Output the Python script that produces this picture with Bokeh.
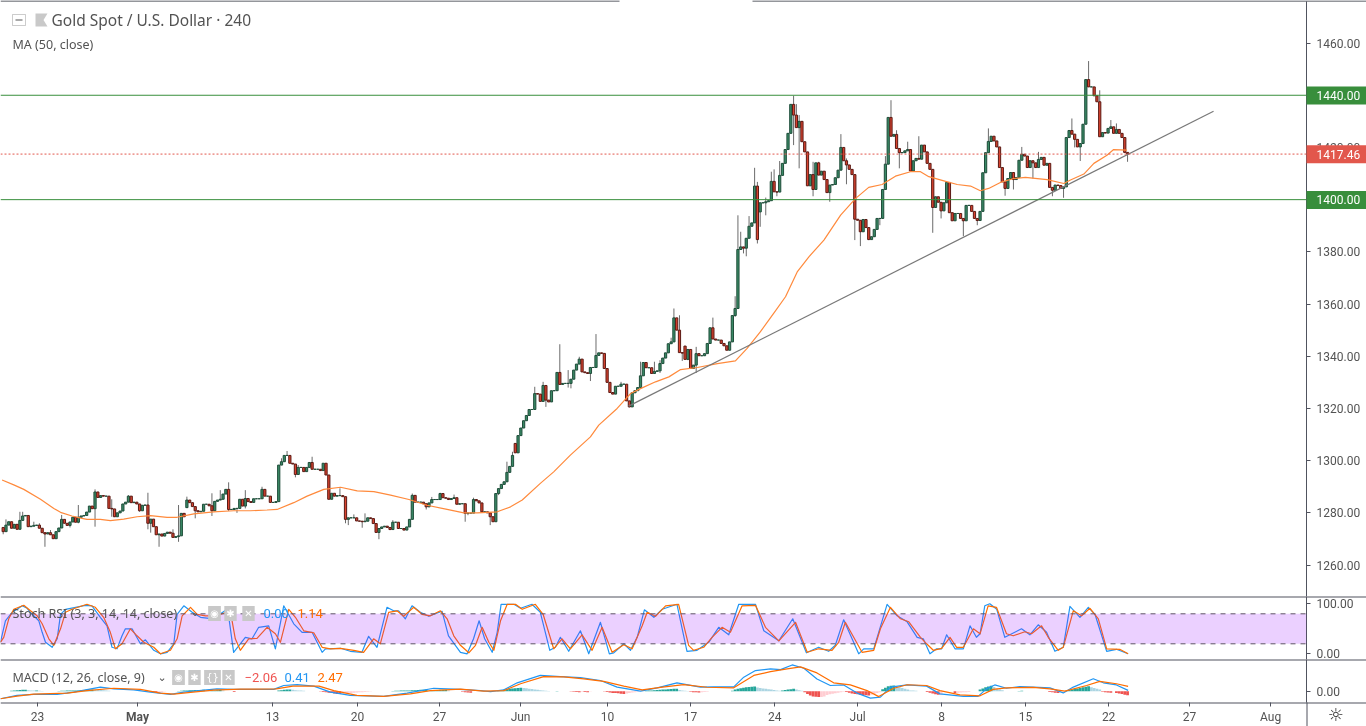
from bokeh.embed import file_html
from bokeh.layouts import column
from bokeh.models import BoxAnnotation, ColumnDataSource, FixedTicker, Label, NumeralTickFormatter, PolyAnnotation, Range1d, Span
from bokeh.plotting import figure
from bokeh.resources import INLINE

# 4h closes
closes = [
    1272.8, 1275.3, 1276.6, 1274.1, 1275.6, 1273.7, 1277.1, 1278.8, 1279.0, 1274.7,
    1274.9, 1275.2, 1275.3, 1274.1, 1272.4, 1271.9, 1272.4, 1271.6, 1270.1, 1272.8,
    1274.2, 1277.5, 1276.0, 1275.2, 1276.5, 1278.3, 1276.4, 1278.3, 1278.8, 1279.0,
    1280.3, 1282.6, 1281.6, 1288.0, 1285.9, 1286.6, 1286.4, 1286.4, 1281.7, 1281.5,
    1278.5, 1280.0, 1280.7, 1283.4, 1284.1, 1286.4, 1283.9, 1284.1, 1283.4, 1280.8,
    1282.9, 1283.0, 1276.0, 1277.6, 1274.7, 1271.6, 1271.9, 1271.1, 1272.1, 1272.6,
    1272.2, 1270.6, 1270.9, 1271.2, 1279.8, 1278.5,
    1284.9, 1283.9, 1282.4, 1280.8, 1280.4, 1280.6, 1283.3, 1283.3, 1282.7, 1280.8,
    1284.4, 1284.9, 1285.2, 1287.2, 1289.0, 1281.3, 1281.3, 1281.7, 1281.7, 1285.2,
    1282.6, 1285.5, 1284.3, 1284.0, 1285.4, 1285.4, 1285.4, 1289.0, 1286.4, 1286.4,
    1284.0, 1284.0, 1284.3, 1298.3, 1299.6, 1302.0, 1302.0, 1299.0, 1298.7, 1294.7,
    1297.4, 1297.4, 1295.8, 1297.4, 1299.3, 1296.7, 1296.7, 1296.7, 1296.2, 1299.0,
    1294.5, 1285.2, 1287.5, 1286.4, 1286.6, 1286.6, 1286.2, 1277.5,
    1278.1, 1278.1, 1278.1, 1276.9, 1276.8, 1276.6, 1276.8, 1278.1, 1277.8, 1275.9,
    1272.5, 1274.0, 1274.6, 1274.9, 1274.4, 1273.6, 1276.4, 1276.4, 1274.0, 1274.0,
    1273.4, 1274.6, 1277.5, 1286.7,
    1284.1, 1284.1, 1284.1, 1283.5, 1282.3, 1283.8, 1285.1, 1285.1, 1285.1, 1287.4,
    1285.8, 1285.6, 1285.1, 1285.5, 1285.8, 1283.3, 1283.5, 1283.5, 1279.8, 1279.9,
    1279.9, 1285.1, 1284.6, 1283.8, 1280.4, 1280.4, 1280.0, 1278.5, 1276.6, 1287.4,
    1289.3, 1290.9, 1291.9, 1295.5, 1297.8, 1302.0, 1303.0, 1309.6, 1312.5, 1315.3,
    1317.3, 1319.6, 1319.6, 1325.7, 1325.5, 1322.7, 1328.8, 1323.2, 1322.5, 1326.8,
    1326.8, 1333.8, 1329.2, 1329.6, 1329.6, 1329.6, 1331.2, 1334.7, 1337.0, 1338.9,
    1334.0, 1333.7, 1333.4, 1335.7, 1335.7, 1340.3, 1341.3, 1341.1, 1335.3, 1330.0,
    1326.1, 1325.5, 1328.5, 1328.5, 1329.3, 1329.3, 1322.9, 1320.6, 1326.0, 1326.8,
    1328.0, 1332.5, 1337.6, 1335.6, 1335.6, 1333.4, 1334.2, 1334.4, 1337.2, 1339.3,
    1341.3, 1344.8, 1345.5, 1354.7,
    1350.0, 1341.4, 1341.2, 1338.8, 1342.6, 1335.3, 1336.6, 1341.0, 1340.2, 1340.2,
    1341.0, 1344.9, 1350.9, 1346.6, 1346.2, 1346.2, 1344.9, 1344.0, 1342.3, 1345.5,
    1355.6, 1358.3, 1380.9, 1381.9, 1381.4, 1385.2, 1389.8, 1391.1, 1405.2, 1384.7,
    1398.8, 1398.8, 1399.2, 1399.6, 1407.0, 1403.0, 1402.9, 1409.3, 1413.9, 1419.2,
    1425.4, 1436.5, 1432.4, 1427.6, 1430.0, 1422.2, 1418.3, 1405.3, 1409.6, 1403.9,
    1414.1, 1409.4, 1410.9, 1407.7, 1402.7, 1405.6, 1405.8, 1408.4, 1411.3, 1420.0,
    1414.9, 1413.3, 1411.6, 1409.6, 1392.5, 1392.1, 1387.7, 1392.4, 1389.3, 1384.7,
    1385.8, 1388.6, 1392.8, 1392.8, 1403.9, 1413.6, 1431.5, 1424.3, 1425.0, 1419.6,
    1418.0, 1418.0, 1418.7, 1419.2, 1411.0, 1414.9, 1415.8, 1415.5, 1420.9,
    1418.3, 1413.9, 1411.6, 1397.0, 1401.1, 1399.0, 1395.7, 1398.8, 1406.6, 1395.0,
    1391.9, 1394.7, 1394.7, 1392.8, 1391.9, 1397.8, 1397.8, 1395.5, 1392.8, 1392.0,
    1395.5, 1410.3, 1418.0, 1422.3, 1424.3, 1422.5, 1420.2, 1412.3, 1406.8, 1404.3,
    1408.1, 1410.4, 1407.7, 1408.5, 1415.1, 1417.4, 1416.7, 1412.3, 1414.9, 1414.1,
    1412.3, 1415.4, 1416.2, 1413.2, 1413.9, 1404.7, 1403.6, 1405.6, 1405.4, 1404.3,
    1404.9, 1423.8, 1426.5, 1425.1, 1423.1, 1420.2, 1421.5, 1428.9, 1446.0, 1443.2,
    1443.2, 1439.8, 1437.5, 1424.1, 1425.7, 1425.5, 1427.3, 1427.9, 1425.4, 1426.9,
    1425.4, 1423.8, 1418.1, 1417.46,
]
# bars that do not open at the previous close
gap_opens = {0: 1274.4, 66: 1282.0, 184: 1306.6, 245: 1343.9, 272: 1395.3}

# only the wicks that can be seen, (bar, price)
wick_highs = [
    (1, 1277.5), (6, 1280.4), (7, 1280.4), (11, 1276.6), (13, 1276.0), (17, 1273.4), (21, 1279.2),
    (27, 1283.0), (33, 1289.0), (34, 1287.9), (39, 1285.2), (45, 1286.8), (52, 1287.7), (61, 1273.7),
    (63, 1283.0), (66, 1286.2), (75, 1287.5), (78, 1288.7), (81, 1291.7), (87, 1288.7), (93, 1290.0),
    (100, 1300.9), (102, 1303.7), (106, 1298.3), (111, 1301.5), (121, 1289.4),
    (126, 1279.4), (130, 1279.8), (140, 1277.2), (147, 1287.4), (154, 1286.1), (157, 1287.7),
    (158, 1287.4), (162, 1287.0), (169, 1285.8), (181, 1299.6), (183, 1303.4), (191, 1328.3),
    (194, 1330.2), (200, 1344.6), (203, 1334.7), (205, 1334.4), (207, 1339.8), (213, 1348.5),
    (222, 1330.2), (229, 1337.9), (234, 1337.9), (236, 1338.5), (237, 1339.1),
    (239, 1344.3), (240, 1347.1), (241, 1358.3), (243, 1355.7), (249, 1343.6), (255, 1354.8),
    (263, 1363.0), (264, 1394.0), (265, 1387.7), (268, 1393.7), (270, 1412.2), (271, 1406.8),
    (274, 1400.8), (276, 1410.7), (277, 1411.6), (279, 1414.8), (284, 1439.8), (285, 1436.6),
    (286, 1432.4), (291, 1414.5), (293, 1414.5), (301, 1425.1), (303, 1415.8), (317, 1416.7),
    (319, 1438.1), (321, 1426.6), (325, 1422.2), (329, 1424.3),
    (354, 1427.3), (366, 1420.2), (372, 1418.3), (384, 1431.1), (390, 1453.1), (394, 1441.9),
    (398, 1430.5), (400, 1429.2),
]
wick_lows = [
    (0, 1271.8), (1, 1273.2), (15, 1267.0), (24, 1274.4), (27, 1276.0), (33, 1274.7), (39, 1278.5),
    (49, 1280.4), (52, 1273.7), (53, 1272.4), (56, 1267.0), (63, 1268.9), (69, 1277.9), (75, 1278.8),
    (81, 1280.7), (84, 1280.0), (87, 1281.7), (105, 1293.6), (123, 1276.0), (124, 1275.3),
    (129, 1274.3), (130, 1276.6), (135, 1269.9), (139, 1273.4), (152, 1281.3), (166, 1276.6),
    (167, 1279.1), (175, 1275.3), (178, 1286.8), (195, 1320.6), (203, 1328.0), (204, 1327.7),
    (211, 1330.5), (225, 1320.4), (228, 1328.0),
    (236, 1333.6), (244, 1338.2), (246, 1338.5), (249, 1333.6), (263, 1355.1), (266, 1379.4),
    (267, 1378.3), (271, 1383.2), (272, 1389.6), (274, 1394.0), (278, 1401.3), (284, 1420.9),
    (286, 1412.0), (291, 1401.3), (297, 1399.2), (303, 1405.9), (306, 1384.5), (308, 1382.2),
    (311, 1384.5), (315, 1390.2), (322, 1412.0),
    (334, 1387.3), (337, 1392.8), (345, 1386.0), (350, 1390.2), (360, 1401.5), (363, 1403.9),
    (370, 1408.1), (377, 1401.3), (381, 1400.7), (385, 1420.0), (387, 1414.8), (404, 1414.5),
]

ma_50 = [
    (-0.4, 1292.6), (3.8, 1290.7), (7.4, 1289.0), (13.4, 1285.2), (18.2, 1281.7), (20.6, 1280.2),
    (24.7, 1278.8), (28.3, 1277.9), (30.1, 1277.5), (34.9, 1277.5), (38.5, 1277.0), (43.3, 1277.6),
    (48.1, 1278.5), (52.9, 1278.9), (58.9, 1278.3), (62.5, 1278.3), (68.5, 1279.6), (75.6, 1280.4),
    (82.8, 1280.8), (88.8, 1280.8), (94.8, 1281.1), (98.4, 1281.3), (104.4, 1283.9), (109.2, 1286.4),
    (115.2, 1289.0), (121.2, 1289.8), (127.2, 1288.4), (133.2, 1288.1), (139.2, 1286.8), (145.8, 1285.1),
    (152.3, 1282.9), (159.5, 1281.3), (165.5, 1280.0), (170.3, 1280.0), (177.5, 1280.4), (182.3, 1282.3),
    (186.5, 1284.9), (193.0, 1291.3), (197.8, 1295.7), (203.8, 1302.1), (211.0, 1309.1), (214.0, 1313.6),
    (220.6, 1320.0), (225.4, 1325.7), (229.0, 1327.6), (234.4, 1330.2), (239.2, 1332.1), (243.4, 1334.9),
    (249.4, 1335.7), (256.6, 1337.2), (263.1, 1338.2), (267.3, 1343.0), (272.1, 1349.4), (276.9, 1356.5),
    (281.1, 1362.8), (285.3, 1372.3), (289.5, 1378.1), (294.9, 1384.5), (300.9, 1394.1), (306.3, 1400.5),
    (311.0, 1404.7), (315.8, 1405.8), (320.6, 1409.0), (326.0, 1410.7), (329.6, 1410.7), (332.6, 1408.8),
    (338.0, 1407.2), (342.8, 1405.8), (347.6, 1405.2), (351.1, 1403.4), (354.1, 1404.3), (358.3, 1406.6),
    (363.1, 1408.1), (367.3, 1408.5), (375.1, 1407.7), (381.1, 1406.2), (383.5, 1407.5), (388.3, 1409.8),
    (391.9, 1413.9), (396.6, 1417.0), (399.0, 1419.2), (403.8, 1419.0),
]
trend_bars = [224.7, 434.9]
trend_prices = [1320.9, 1433.9]
level_prices = [1440.0, 1400.0]
last_price = 1417.46

stoch_k = [
    (-1, 23), (0.8, 66), (3.2, 83), (5, 89), (6.8, 96), (8.6, 91), (10.4, 79), (12.8, 66), (14, 43), (15.2, 23),
    (17.6, 13), (19.4, 30), (20.6, 79), (22.4, 89), (26, 93), (29.5, 97), (31.9, 96), (34.9, 73), (37.3, 56),
    (39.1, 13), (40.9, 10), (42.7, 36), (43.9, 50), (46.3, 50), (49.3, 20), (51.1, 28), (54.1, 7), (56.5, 0),
    (58.9, 3), (61.3, 20), (62.5, 79), (64.9, 96), (67.9, 83), (70.9, 73), (75.6, 70), (80.4, 89), (81, 76),
    (82.8, 3), (87, 33), (89.4, 30), (91.8, 53), (95.4, 56), (97.8, 10), (100.8, 96), (104.4, 60), (107.4, 43),
    (111, 43), (114.6, 3), (115.8, 10), (121.2, 11), (124.7, 5), (128.9, 3), (131.3, 35), (134.3, 13), (137.9, 93),
    (140.3, 86), (142.1, 86), (144.5, 70), (146.9, 96), (149.9, 83), (152.9, 75), (157.7, 85), (160, 36), (164.3, 3),
    (166.7, 0), (169, 30), (171, 66), (173, 30), (175.7, 3), (177.5, 43), (178.9, 99), (183.5, 99), (185.9, 91),
    (190, 99), (193, 83), (196.4, 7), (198.4, 13), (200.2, 33), (203.2, 5), (207.4, 46), (210.4, 0), (214.6, 63),
    (217.8, 0), (219.4, 2), (223, 20), (225.4, 7), (227.8, 33), (230.4, 88), (233.8, 73), (236.8, 89), (242.1, 99),
    (245.7, 5), (249.3, 7), (253.5, 23), (257.1, 53), (260.7, 38), (264.3, 99), (270.3, 99), (273.3, 46), (278.7, 26),
    (283.7, 70), (288.6, 2), (293, 13), (296.6, 5), (299, 17), (302, 68), (307.4, 0), (309.2, 10), (312.8, 10),
    (317.6, 99), (321.2, 76), (324.8, 64), (328.4, 33), (330.6, 30), (333, 0), (335.4, 10), (337.2, 10), (339, 38),
    (342, 10), (345, 10), (347.4, 56), (349.7, 33), (351, 40), (352.7, 96), (354.5, 100), (357, 89), (359.9, 33),
    (361.7, 38), (365.9, 50), (368.9, 38), (371.9, 58), (374.9, 43), (377.9, 5), (380.9, 13), (383.3, 95), (386.9, 73),
    (389.9, 93), (392.3, 79), (396.5, 5), (400, 9), (404.2, 0),
]
stoch_d = [
    (-1, 23), (0.2, 33), (2, 70), (3.8, 89), (7.4, 97), (9.8, 86), (12.2, 76), (14, 60), (16.4, 30), (18.2, 17),
    (20.6, 50), (22.4, 83), (24.7, 89), (30.1, 99), (33.1, 93), (36.1, 73), (38.5, 43), (40.3, 10), (42.7, 20),
    (45.7, 50), (48.1, 36), (50.5, 23), (54.1, 13), (56.5, 0), (60.1, 7), (62.5, 30), (64.3, 76), (67.3, 93),
    (69.7, 79), (72.7, 76), (76.8, 76), (81.6, 86), (83.4, 30), (85.2, 7), (88.2, 30), (91.2, 31), (94.8, 53),
    (97.8, 40), (99.6, 23), (102.6, 89), (105, 73), (108, 46), (111.6, 42), (114.6, 13), (117.6, 10), (121.2, 11),
    (126, 7), (129.5, 3), (133.1, 30), (135.5, 20), (138.5, 83), (141.5, 86), (143.9, 75), (147.5, 93), (150.5, 79),
    (153.5, 76), (157.1, 86), (159.5, 70), (161.9, 36), (164.3, 17), (167.3, 2), (169.7, 17), (172.1, 53), (174.5, 23),
    (176.3, 7), (178.7, 66), (181.1, 99), (184.1, 99), (186.5, 89), (191.2, 99), (194, 79), (197.8, 10), (200.8, 30),
    (203.8, 10), (208, 38), (211.6, 7), (215.2, 53), (218.8, 3), (223, 18), (226, 10), (229.6, 56), (231.4, 83),
    (234.4, 75), (238, 96), (242.7, 99), (246.3, 17), (248.1, 7), (251.7, 13), (254.7, 33), (258.3, 53), (261.3, 43),
    (265.5, 96), (270.3, 97), (273.9, 53), (278.7, 26), (284.7, 63), (288.9, 3), (293, 10), (297.8, 7), (300.2, 23),
    (302.6, 63), (308.6, 3), (312.8, 7), (315.2, 50), (318.8, 93), (322.4, 70), (325.4, 64), (329.6, 33), (331.8, 20),
    (334.2, 7), (337.2, 11), (340.2, 33), (342.6, 13), (345, 13), (348.6, 50), (351, 40), (353.9, 96), (356.9, 93),
    (360.5, 40), (362.9, 36), (367.1, 44), (369.5, 40), (373.1, 56), (375.5, 33), (379.1, 7), (380.9, 13), (384.5, 86),
    (387.5, 76), (390.5, 91), (393.5, 70), (396.5, 10), (401.2, 9), (404.2, 0),
]

macd_line = [
    (-1, -3.9), (5, -2.2), (11, -1.7), (19.4, -1.7), (25.3, -0.5), (34.9, 2.1), (39.7, 1.2), (46.9, 0.7), (52.9, -0.5),
    (60.1, -1.7), (64.9, -0.5), (76.8, 1.2), (82.8, 0.9), (97.2, 0.9), (100.8, 2.9), (105.6, 3.4), (111.6, 2.6),
    (117.6, -0.5), (124.7, -2.2), (136.7, -2.7), (145.1, -1.0), (154.7, 1.5), (164.3, 0.9), (171.5, 0.3), (175.1, -0.2),
    (179.9, 0.7), (184.7, 4.3), (193, 8.1), (200.2, 7.5), (207.4, 7.0), (214.6, 5.5), (220.6, 2.1), (229, 0.0),
    (235, 1.7), (242.1, 4.3), (250.5, 2.1), (255.3, 2.2), (262.5, 2.2), (266.1, 7.2), (270.3, 10.6), (275.7, 11.5),
    (279.3, 11.1), (283.5, 13.5), (287.7, 11.8), (292.4, 6.3), (297.2, 2.9), (302, 3.2), (306.8, -1.0), (311.6, -3.6),
    (315.2, -3.1), (318.8, 2.1), (324.8, 3.2), (331.8, 2.6), (336.6, -1.4), (345, -2.7), (350.3, -2.7), (353.3, 1.2),
    (356.3, 3.2), (360.5, 1.5), (365.3, 2.4), (370.1, 2.1), (376.1, 1.7), (380.9, -0.9), (384.5, 2.1), (391.7, 6.4),
    (395.3, 4.3), (400, 3.2), (404.2, 0.41),
]
macd_signal = [
    (-1, -3.9), (5, -2.6), (11, -1.5), (23, -1.0), (30.1, 0.3), (39.7, 1.5), (49.3, 0.9), (56.5, -1.0), (61.3, -1.5),
    (68.2, -0.5), (75.6, 0.5), (85.2, 1.0), (98.1, 1.2), (104.1, 2.6), (113.5, 2.6), (118.8, 0.3), (127.1, -2.2),
    (136.7, -2.7), (146.3, -1.4), (153.5, 0.3), (164.3, 1.0), (172.7, 0.0), (179.9, 0.3), (185.9, 3.8), (194.2, 7.5),
    (201.4, 7.4), (208.6, 6.3), (215.8, 5.0), (223, 2.6), (229.6, 0.7), (236.2, 1.9), (244.5, 3.4), (252.9, 2.0),
    (262.5, 1.7), (269.7, 8.1), (275.7, 10.1), (281.7, 11.5), (286.5, 12.5), (292.4, 9.4), (298.4, 4.3), (304.4, 3.2),
    (310.4, 0.3), (314.6, -2.8), (320, 1.5), (324.8, 3.3), (331.8, 2.9), (336.6, 0.3), (343.8, -1.9), (351, -2.4),
    (355.7, 0.9), (360.5, 1.7), (370.1, 1.9), (376.1, 1.2), (381.5, 0.0), (389.3, 2.9), (394, 5.0), (400, 3.8),
    (404.2, 2.47),
]
# histogram runs: first bar, then one value per bar
macd_hist = [
    (3, [0.2, 0.4, 0.5, 0.6, 0.7, 0.7, 0.5, 0.4, 0.3, 0.3, 0.2, 0.1]),
    (20, [0.1, 0.2, 0.2, 0.3, 0.3, 0.4, 0.4, 0.4, 0.5, 0.6, 0.7, 0.8, 0.9, 0.8, 0.7, 0.6, 0.5, 0.3, 0.2]),
    (52, [-0.2, -0.4, -0.6, -0.8, -0.6, -0.4, -0.2]),
    (63, [0.1, 0.2, 0.3, 0.4, 0.5, 0.5, 0.6, 0.6, 0.6, 0.7, 0.4, 0.2, 0.3, 0.4, 0.5, 0.6, 0.3]),
    (83, [-0.4]),
    (99, [0.3, 0.5, 0.7, 0.8, 0.9, 0.7, 0.5, 0.4, 0.3, 0.2]),
    (114, [-0.2, -0.4, -0.6, -0.8, -1.0, -1.2, -1.4, -1.5, -1.3, -1.1, -1.0, -0.9, -0.8, -0.7, -0.6, -0.5, -0.4, -0.3, -0.2, -0.1]),
    (140, [0.1, 0.2, 0.2, 0.3, 0.3, 0.4, 0.4, 0.5, 0.5, 0.6, 0.7, 0.7, 0.8, 0.4, 0.5, 0.6, 0.6, 0.7, 0.7, 0.7, 0.3]),
    (165, [-0.3, -0.6, -0.7, -0.8]),
    (178, [0.2, 0.5, 0.8, 1.0, 1.2, 1.4, 1.5, 1.6, 1.7, 1.6, 1.5, 1.3, 1.1, 0.9, 0.7, 0.5, 0.3, 0.2, 0.1]),
    (199, [0.1]),
    (203, [-0.1, -0.2, -0.3, -0.4, -0.5, -0.3, -0.4, -0.5, -0.2, -0.1]),
    (216, [-0.2, -0.4, -0.7, -0.9, -1.0, -1.1, -1.3, -1.5, -1.2, -0.9, -0.7, -0.5, -0.3, -0.1]),
    (231, [0.2, 0.3, 0.4, 0.5, 0.6, 0.7, 0.8, 0.9, 1.0, 1.1, 1.2, 1.2, 0.6, 0.3, 0.2, 0.1]),
    (247, [-0.3, -0.5, -0.6, -0.7, -0.6, -0.4, -0.3, -0.1]),
    (262, [0.2, 0.8, 1.2, 1.5, 1.8, 2.0, 2.2, 2.3, 2.4, 1.9, 1.6, 1.4, 1.2, 1.0, 0.8, 0.6, 0.4, 0.2, 0.4, 0.6, 0.8, 1.0, 1.2, 0.8, 0.5, 0.2]),
    (288, [-0.6, -1.4, -2.2, -2.8, -2.9, -3.0, -3.0, -2.8, -2.0, -1.6, -1.3, -1.1, -0.8, -0.5, -0.3]),
    (303, [-0.4, -0.8, -1.2, -1.4, -1.6, -1.8, -2.0, -2.1, -2.3, -1.9, -1.5, -1.0, -0.5]),
    (316, [1.0, 1.8, 2.5, 2.8, 2.9, 2.4, 2.0, 1.6, 1.2, 0.8, 0.4, 0.3, 0.2]),
    (332, [-0.4, -0.8, -1.2, -1.6, -1.9, -1.9]),
    (342, [-0.9, -0.8, -0.7, -0.6, -0.5, -0.4]),
    (351, [0.8, 1.4, 2.0, 2.4, 2.8, 2.2, 1.4, 0.9, 0.5]),
    (365, [0.1, 0.2]),
    (376, [-0.4, -0.6, -0.8, -0.9]),
    (382, [0.2, 0.6, 0.9, 1.1, 1.4, 1.6, 2.0, 2.3, 2.5, 2.0, 1.6, 1.2, 0.8]),
    (395, [-0.3, -0.5, -0.7, -0.8]),
    (400, [-0.9, -1.2, -1.5, -1.9, -2.06]),
]

time_ticks = [12.3, 48.3, 96.8, 127.3, 156.8, 185.9, 217.1, 247, 277.2, 307, 337.2, 367.3, 397.2, 426.3, 455.4]
time_labels = ["23", "", "13", "20", "27", "Jun", "10", "17", "24", "Jul", "8", "15", "22", "27", "Aug"]
price_ticks = list(range(1260, 1480, 20))

FONT = "Noto Sans"
NUM_FONT = "Roboto"
TEXT = "#535353"
AXIS = "#50535e"
GREEN = "#388e3c"
RED = "#e2574c"

opens = [gap_opens.get(i, closes[i - 1] if i else closes[0]) for i in range(len(closes))]
highs = [max(o, c) for o, c in zip(opens, closes)]
lows = [min(o, c) for o, c in zip(opens, closes)]
for bar, price in wick_highs:
    highs[bar] = max(highs[bar], price)
for bar, price in wick_lows:
    lows[bar] = min(lows[bar], price)
bars = list(range(len(closes)))

x_range = Range1d(-0.97, 468.3)


def pane(height, y_start, y_end, ticks, border_bottom=0, border_top=0):
    p = figure(width=1366, height=height, x_range=x_range, y_range=Range1d(y_start, y_end),
               y_axis_location="right", x_axis_location="below" if border_bottom else None,
               toolbar_location=None, output_backend="svg", min_border_left=0, min_border_right=60,
               min_border_top=border_top, min_border_bottom=border_bottom, outline_line_color=None)
    p.grid.visible = False
    ax = p.yaxis[0]
    ax.ticker = FixedTicker(ticks=ticks)
    ax.formatter = NumeralTickFormatter(format="0.00")
    ax.axis_line_color = AXIS
    ax.major_tick_line_color = AXIS
    ax.major_tick_in = 0
    ax.major_tick_out = 4
    ax.minor_tick_line_color = None
    ax.major_label_text_font = NUM_FONT
    ax.major_label_text_font_size = "12px"
    ax.major_label_text_color = TEXT
    ax.major_label_standoff = 6
    return p


# price pane
main = pane(596, 1247.95, 1475.92, price_ticks, border_top=1)
main.segment(bars, highs, bars, lows, color="#6b6b6b", line_width=1)
up = [i for i in bars if closes[i] >= opens[i]]
down = [i for i in bars if closes[i] < opens[i]]
main.vbar(x=up, top=[closes[i] for i in up], bottom=[opens[i] for i in up], width=0.8,
          fill_color="#3a8a66", line_color="#1f4d3a", line_width=1)
main.vbar(x=down, top=[opens[i] for i in down], bottom=[closes[i] for i in down], width=0.8,
          fill_color="#d9432f", line_color="#5a1a14", line_width=1)
main.line([b for b, _ in ma_50], [v for _, v in ma_50], color="#ff8a3c", line_width=1.2)
main.line(trend_bars, trend_prices, color="#787878", line_width=1.2)
for level in level_prices:
    main.add_layout(Span(location=level, dimension="width", line_color=GREEN, line_width=1))
main.add_layout(Span(location=last_price, dimension="width", line_color=RED, line_width=1, line_dash="2 2"))

# stochastic pane, its axis texts go on the overlay
stoch = pane(63, -11.4, 114.6, [0, 100])
stoch.yaxis[0].major_label_overrides = {0: "", 100: ""}
stoch.add_layout(BoxAnnotation(top=80, bottom=20, fill_color="#9915ff", fill_alpha=0.2, line_color=None))
stoch.line([b for b, _ in stoch_k], [v for _, v in stoch_k], color="#2196f3", line_width=1.2, line_join="round")
stoch.line([b for b, _ in stoch_d], [v for _, v in stoch_d], color="#ff6d00", line_width=1.2, line_join="round")
for level in [80, 20]:
    stoch.add_layout(Span(location=level, dimension="width", line_color="#5f5566", line_width=1, line_dash="5 5"))

# macd pane
macd = pane(67, -5.84, 16.3, [0], border_bottom=24)
hist_x, hist_v, hist_c = [], [], []
for start, values in macd_hist:
    prev = 0
    for j, v in enumerate(values):
        if v >= 0:
            c = "#26a69a" if v >= prev else "#acd5e2"
        else:
            c = "#ef5350" if v < prev else "#ffcdd2"
        hist_x.append(start + j)
        hist_v.append(v)
        hist_c.append(c)
        prev = v
macd.vbar(source=ColumnDataSource(dict(x=hist_x, top=hist_v, bottom=[0] * len(hist_v), c=hist_c)),
          x="x", top="top", bottom="bottom", width=1, fill_color="c", line_color=None)
macd.line([b for b, _ in macd_line], [v for _, v in macd_line], color="#2196f3", line_width=1.2, line_join="round")
macd.line([b for b, _ in macd_signal], [v for _, v in macd_signal], color="#ff6d00", line_width=1.2, line_join="round")
xa = macd.xaxis[0]
xa.ticker = FixedTicker(ticks=time_ticks)
xa.major_label_overrides = dict(zip(time_ticks, time_labels))
xa.axis_line_color = None
xa.major_tick_line_color = AXIS
xa.major_tick_in = 0
xa.major_tick_out = 4
xa.minor_tick_line_color = None
xa.major_label_text_font = NUM_FONT
xa.major_label_text_font_size = "12px"
xa.major_label_text_color = TEXT
xa.major_label_standoff = 3

# see-through figure over the whole page: frame is the full canvas, so nothing on it gets clipped
over = figure(width=1366, height=726, x_range=Range1d(0, 1366), y_range=Range1d(1198.28, 1476.4),
              x_axis_location=None, y_axis_location=None, toolbar_location=None, output_backend="svg",
              min_border=0, outline_line_color=None, background_fill_alpha=0, border_fill_alpha=0,
              styles={"position": "fixed", "left": "0px", "top": "0px"})
over.grid.visible = False


def box(left, right, top, bottom, color=AXIS, line=None):
    over.add_layout(BoxAnnotation(left=left, right=right, top=top, bottom=bottom, left_units="canvas", right_units="canvas",
                                  top_units="canvas", bottom_units="canvas", fill_color=color, fill_alpha=1, line_color=line))


def text(x, y, s, color=TEXT, size="12px", font=FONT, style="normal", align="left", bg=None, pad=0):
    over.add_layout(Label(x=x, y=y, x_units="canvas", y_units="canvas", text=s, text_color=color, text_font_size=size,
                          text_font=font, text_font_style=style, text_align=align, text_baseline="middle",
                          background_fill_color=bg, padding=pad))


def badge(price, s, color):
    over.add_layout(BoxAnnotation(left=1306, right=1366, top=price + 3.45, bottom=price - 3.45, left_units="canvas",
                                  right_units="canvas", fill_color=color, fill_alpha=1, line_color=None))
    over.add_layout(Label(x=1316, y=price, x_units="canvas", y_units="data", text=s, text_color="white",
                          text_font=NUM_FONT, text_font_size="12px", text_baseline="middle"))


box(0, 619, 0, 1, color="#2a2e39")
box(752, 1366, 0, 1, color="#2a2e39")
box(0, 1366, 596, 597)
box(0, 1366, 659, 660)
box(0, 1366, 702, 703)
box(1306, 1307, 702, 726)
badge(1440.0, "1440.00", GREEN)
badge(last_price, "1417.46", RED)
badge(1400.0, "1400.00", GREEN)

box(12, 25, 14, 25, color="white", line="#555555")
box(15, 22, 19, 20, color="#555555")
over.add_layout(PolyAnnotation(xs=[35, 47, 43, 47, 35], ys=[13, 13, 19.5, 26, 26], xs_units="canvas", ys_units="canvas",
                               fill_color="#c9c9c9", fill_alpha=1, line_color=None))
text(51, 19, "Gold Spot / U.S. Dollar · 240", size="15.5px")
text(12, 44, "MA (50, close)", size="12.5px")

text(1316, 603, "100.00", font=NUM_FONT)
text(1316, 653, "0.00", font=NUM_FONT)
text(12, 613, "Stoch RSI (3, 3, 14, 14, close)", size="12.5px")
text(190, 612, "⌄", size="11px", font="DejaVu Sans")
for x, icon in zip([214, 230, 248], ["◉", "✱", "✕"]):
    text(x, 613, icon, color="white", size="10px", font="DejaVu Sans", align="center", bg="#c8c8c8", pad=2)
text(263, 613, "0.00", color="#2196f3", font=NUM_FONT, size="13px")
text(297, 613, "1.14", color="#ff6d00", font=NUM_FONT, size="13px")

text(12, 677, "MACD (12, 26, close, 9)", size="12.5px")
text(157, 677, "⌄", size="11px", font="DejaVu Sans")
for x, icon in zip([178, 194, 212, 228], ["◉", "✱", "{}", "✕"]):
    text(x, 677, icon, color="white", size="10px", font="DejaVu Sans", align="center", bg="#c8c8c8", pad=2)
text(244, 677, "−2.06", color="#ef5350", font=NUM_FONT, size="13px")
text(284, 677, "0.41", color="#2196f3", font=NUM_FONT, size="13px")
text(317, 677, "2.47", color="#ff6d00", font=NUM_FONT, size="13px")

text(137, 716, "May", style="bold", align="center", font=NUM_FONT)
text(1335, 714, "☼", color="#333333", size="18px", font="DejaVu Sans", align="center")

page = column(main, stoch, macd, spacing=0, styles={"position": "fixed", "left": "0px", "top": "0px"})
open("out.html", "w").write(file_html([page, over], INLINE))
